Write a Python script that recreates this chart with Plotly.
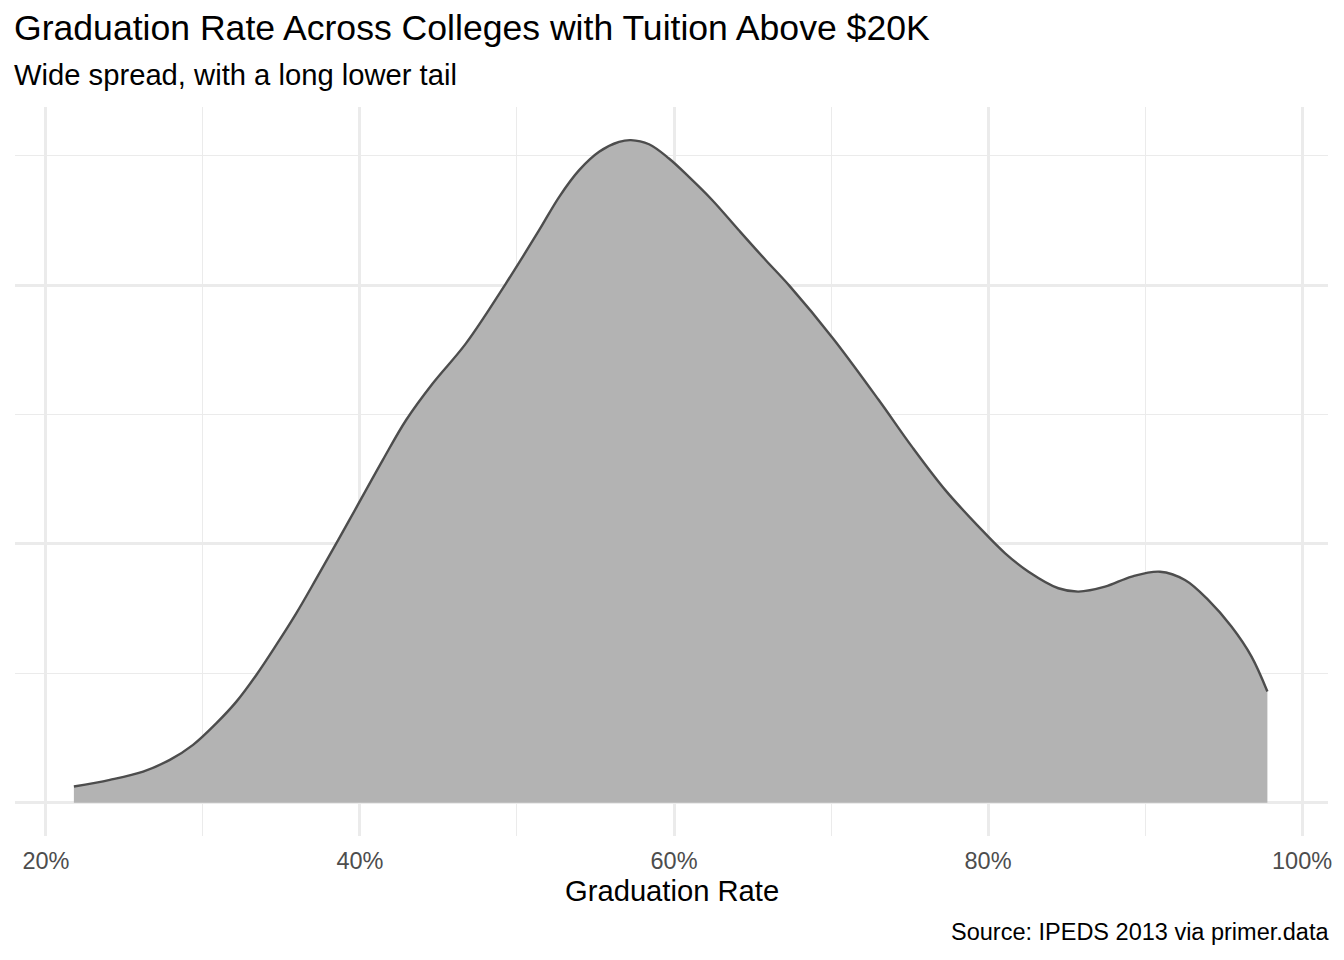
import plotly.graph_objects as go

# density estimate (x = graduation rate, y = density)
grad_rate = [0.2178, 0.2407, 0.2619, 0.2789, 0.2937, 0.3086, 0.3213, 0.3340,
             0.3467, 0.3594, 0.3721, 0.3933, 0.4145, 0.4294, 0.4463, 0.4675,
             0.4930, 0.5141, 0.5269, 0.5396, 0.5523, 0.5650, 0.5725,
             0.5841, 0.5968, 0.6095, 0.6244, 0.6413, 0.6583, 0.6737, 0.7014,
             0.7304, 0.7515, 0.7728, 0.7940, 0.8109, 0.8258, 0.8448, 0.8576,
             0.8745, 0.8915, 0.9095, 0.9254, 0.9402, 0.9550, 0.9678, 0.9779]
density = [0.063, 0.089, 0.121, 0.166, 0.224, 0.308, 0.391, 0.494,
           0.610, 0.732, 0.865, 1.093, 1.324, 1.479, 1.620, 1.775,
           2.007, 2.212, 2.341, 2.444, 2.515, 2.553, 2.560,
           2.544, 2.489, 2.418, 2.328, 2.212, 2.097, 1.996, 1.793,
           1.556, 1.376, 1.208, 1.067, 0.964, 0.893, 0.829, 0.816,
           0.835, 0.874, 0.893, 0.861, 0.784, 0.681, 0.565, 0.430]

x_ticks = [0.2, 0.4, 0.6, 0.8, 1.0]
x_labels = ["20%", "40%", "60%", "80%", "100%"]
x_minor = [0.3, 0.5, 0.7, 0.9]
y_major = [0, 1, 2]
y_minor = [0.5, 1.5, 2.5]

title = "Graduation Rate Across Colleges with Tuition Above $20K"
subtitle = "Wide spread, with a long lower tail"
x_title = "Graduation Rate"
caption = "Source: IPEDS 2013 via primer.data"

FONT = "Liberation Sans, Arial, sans-serif"
GRID = "#ebebeb"

fig = go.Figure()
fig.add_trace(go.Scatter(
    x=grad_rate, y=density, mode="lines",
    line=dict(color="#4d4d4d", width=2.4, shape="spline", smoothing=1.0),
    fill="tozeroy", fillcolor="#b3b3b3",
    hoverinfo="skip", showlegend=False,
))

fig.update_layout(
    width=1344, height=960,
    margin=dict(l=15, r=14, t=107, b=124),
    plot_bgcolor="white", paper_bgcolor="white",
    font=dict(family=FONT, color="black"),
    showlegend=False,
)

fig.update_xaxes(
    range=[0.1803, 1.0165],
    tickvals=x_ticks, ticktext=x_labels,
    tickfont=dict(size=23.5, color="#4d4d4d"),
    ticks="outside", ticklen=4, tickcolor="rgba(0,0,0,0)",
    showgrid=True, gridcolor=GRID, gridwidth=2.5,
    minor=dict(tickvals=x_minor, showgrid=True, gridcolor=GRID, gridwidth=1.3),
    zeroline=False, showline=False,
)
fig.update_yaxes(
    range=[-0.128, 2.688],
    tickvals=y_major, showticklabels=False,
    showgrid=True, gridcolor=GRID, gridwidth=2.5,
    minor=dict(tickvals=y_minor, showgrid=True, gridcolor=GRID, gridwidth=1.3),
    zeroline=False, showline=False,
)

# plot area spans 729px vertically: paper y = (836 - px) / 729
def py(px):
    return (836 - px) / 729

fig.add_annotation(text=title, xref="paper", yref="paper", x=-0.002, y=py(28),
                   xanchor="left", yanchor="middle", showarrow=False,
                   font=dict(size=35.6, color="black"))
fig.add_annotation(text=subtitle, xref="paper", yref="paper", x=-0.002, y=py(75),
                   xanchor="left", yanchor="middle", showarrow=False,
                   font=dict(size=29.2, color="black"))
fig.add_annotation(text=x_title, xref="paper", yref="paper", x=0.5, y=py(891),
                   xanchor="center", yanchor="middle", showarrow=False,
                   font=dict(size=29.2, color="black"))
fig.add_annotation(text=caption, xref="paper", yref="paper", x=1.002, y=py(932),
                   xanchor="right", yanchor="middle", showarrow=False,
                   font=dict(size=23.5, color="black"))

# drop the browser's default body margin so the figure sits at (0, 0)
fig.write_html("out.html", config={"displayModeBar": False},
               post_script="document.body.style.margin='0';")
